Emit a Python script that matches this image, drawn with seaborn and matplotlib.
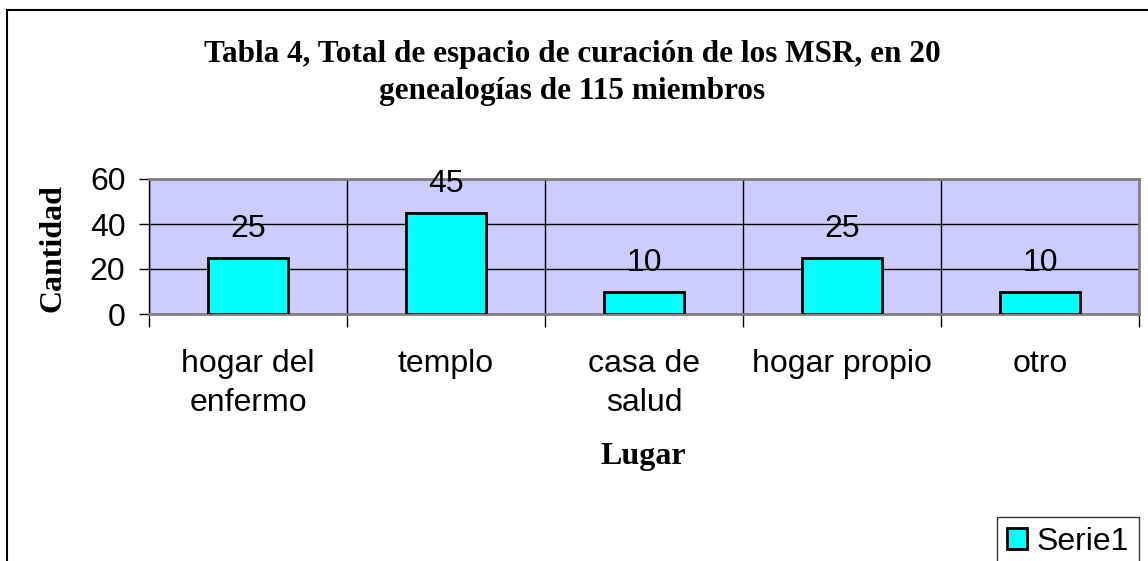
import matplotlib
matplotlib.use('Agg')
import matplotlib.pyplot as plt
from matplotlib.patches import Patch, Rectangle
from matplotlib.ticker import FixedLocator
import seaborn as sns

# data
categories = ['hogar del\nenfermo', 'templo', 'casa de\nsalud', 'hogar propio', 'otro']
values = [25, 45, 10, 25, 10]
y_ticks = [0, 20, 40, 60]
series_name = 'Serie1'

title = 'Tabla 4, Total de espacio de curación de los MSR, en 20\ngenealogías de 115 miembros'
x_label = 'Lugar'
y_label = 'Cantidad'

sns.set_style('white')
plt.rcParams['font.family'] = ['Liberation Sans', 'DejaVu Sans']
plt.rcParams['text.color'] = 'black'
plt.rcParams['axes.labelcolor'] = 'black'
plt.rcParams['xtick.color'] = 'black'
plt.rcParams['ytick.color'] = 'black'
SERIF = ['Liberation Serif', 'DejaVu Serif']

W, H = 1148, 561
fig = plt.figure(figsize=(W / 100, H / 100), dpi=100)
ax = fig.add_axes([149 / W, 1 - 314 / H, 990 / W, 135 / H])
ax.set_facecolor('#CCCCFF')

sns.barplot(x=categories, y=values, color='#00FFFF', edgecolor='black',
            linewidth=2, width=0.4, saturation=1, ax=ax, zorder=3)

ax.set_xlim(-0.5, len(categories) - 0.5)
ax.set_ylim(0, 60)
ax.set_yticks(y_ticks)
ax.tick_params(axis='y', which='major', length=7, width=1, color='black',
               direction='out', labelsize=23, pad=10, left=True)
ax.tick_params(axis='x', which='major', length=0, labelsize=23, pad=25)
ax.xaxis.set_minor_locator(FixedLocator([i + 0.5 for i in range(-1, len(categories))]))
ax.tick_params(axis='x', which='minor', length=9, width=1, color='black',
               direction='out', bottom=True)
for lbl in ax.get_xticklabels():
    lbl.set_linespacing(1.4)

ax.grid(True, axis='y', which='major', color='black', linewidth=1)
ax.grid(True, axis='x', which='minor', color='black', linewidth=1)
ax.set_axisbelow(True)

for side in ['top', 'right', 'bottom']:
    ax.spines[side].set_color('#808080')
    ax.spines[side].set_linewidth(2)
ax.spines['left'].set_color('black')
ax.spines['left'].set_linewidth(1)

for c in ax.containers:
    ax.bar_label(c, labels=[str(v) for v in values], padding=10, fontsize=23, zorder=4)

ax.set_xlabel(x_label, family=SERIF, fontweight='bold', fontsize=23)
ax.xaxis.label.set_va('center')
ax.xaxis.set_label_coords(0.499, -1.059)
ax.set_ylabel(y_label, family=SERIF, fontweight='bold', fontsize=23)
ax.yaxis.label.set_va('center')
ax.yaxis.set_label_coords(-0.097, 0.49)

fig.text(572 / W, 1 - 73 / H, title, family=SERIF, fontweight='bold', fontsize=22.5,
         ha='center', va='center', linespacing=1.4)

handle = Patch(facecolor='#00FFFF', edgecolor='black', linewidth=2)
leg = fig.legend([handle], [series_name], loc='upper left',
                 bbox_to_anchor=(997 / W, 1 - 517 / H), fontsize=23,
                 frameon=True, fancybox=False, handlelength=0.65, handleheight=0.65,
                 handletextpad=0.3, borderpad=0.3, borderaxespad=0)
leg.get_frame().set_edgecolor('black')
leg.get_frame().set_linewidth(1)

# outer chart border (right and bottom edges fall outside the image)
fig.patches.append(Rectangle((7 / W, -0.1), 1.2, 1.1 - 10 / H, fill=False,
                             edgecolor='black', linewidth=1.5, transform=fig.transFigure))

fig.savefig('out.png', dpi=100, facecolor='white')
